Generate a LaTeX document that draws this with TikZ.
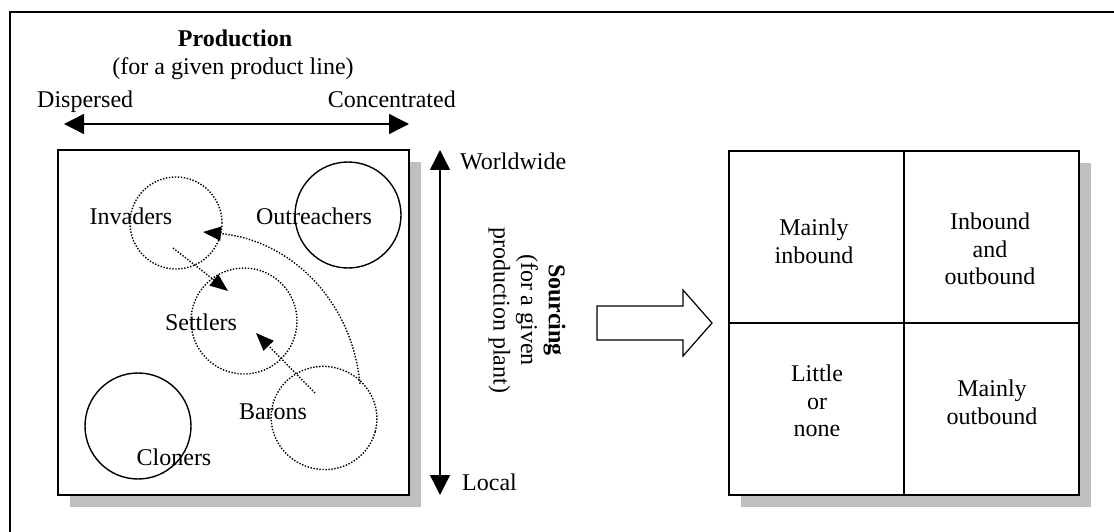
\documentclass[tikz,border=0pt]{standalone}
\usepackage{fontspec}
\setmainfont{Liberation Serif}
\usetikzlibrary{arrows.meta,calc,shapes.geometric}

\tikzset{
	shadow/.style={fill=black!25,draw=none},
	box/.style={draw,fill=white,line width=1.4pt},
	ring/.style={line width=1.4pt},
	dotring/.style={line width=1.4pt,dash pattern=on 1.4pt off 1.6pt},
	move/.style={dotring,-{Triangle[length=18pt,width=14pt]}},
	axis/.style={line width=1.4pt,{Triangle[length=20pt,width=20pt]}-{Triangle[length=20pt,width=20pt]}},
}

\begin{document}
\begin{tikzpicture}[x=1pt,y=-1pt,every node/.style={font=\fontsize{24}{27.7}\selectfont,inner sep=0pt}]
	\useasboundingbox (0,0) rectangle (1114,532);
	\path
	(58,150) coordinate (L1)
	(409,495) coordinate (L2)
	(729,151) coordinate (R1)
	(1079,495) coordinate (R2)
	($(R1)!.5!(R2)$) coordinate (RM)
	(64,124) coordinate (disp)
	(409,124) coordinate (conc)
	(440,150) coordinate (wide)
	(440,495) coordinate (loc)
	;
	% outer frame, only left and top edges fall inside the picture
	\draw[line width=2.6pt] (1120,12) -- (10,12) -- (10,540);
	% boxes with their shadows
	\fill[shadow] ($(L1)+(12,12)$) rectangle ($(L2)+(12,12)$);
	\fill[shadow] ($(R1)+(12,12)$) rectangle ($(R2)+(12,12)$);
	\draw[box] (L1) rectangle (L2);
	\draw[box] (R1) rectangle (R2);
	\draw[line width=1.4pt] (RM |- R1) -- (RM |- R2) (RM -| R1) -- (RM -| R2);
	% axes
	\draw[axis] (disp) -- (conc);
	\draw[axis] (wide) -- (loc);
	\node[anchor=base] (prod) at (235,47) {\bfseries Production};
	\node[anchor=base] (prodsub) at (233,75) {(for a given product line)};
	\node[anchor=base west] (dispt) at (37,108) {Dispersed};
	\node[anchor=base east] (conct) at (456,108) {Concentrated};
	\node[anchor=base west] (widet) at (460,170) {Worldwide};
	\node[anchor=base west] (loct) at (462,490) {Local};
	\node[rotate=-90,align=center] (src) at (527,310) {\bfseries Sourcing\\(for a given\\production plant)};
	% strategies
	\node[circle,dotring,draw,minimum size=92pt] (invc) at (176,223) {};
	\node[circle,ring,draw,minimum size=106pt] (outc) at (348,215) {};
	\node[circle,dotring,draw,minimum size=106pt] (setc) at (244,321) {};
	\node[ellipse,dotring,draw,minimum width=106pt,minimum height=103pt,rotate=-15] (barc) at (324,418) {};
	\node[circle,ring,draw,minimum size=106pt] (clnc) at (138,426) {};
	\foreach \n/\p/\t in {inv/{(131,224)}/Invaders,out/{(314,224)}/Outreachers,set/{(201,330)}/Settlers,bar/{(273,419)}/Barons,cln/{(174,465)}/Cloners}
		\node[anchor=base] (\n) at \p {\t};
	\path
	(173,248) coordinate (a1) (228,291) coordinate (b1)
	(315,393) coordinate (a2) (256,333) coordinate (b2)
	(360,384) coordinate (a3) (203,232) coordinate (b3)
	;
	\draw[move] (a1) -- (b1);
	\draw[move] (a2) -- (b2);
	\draw[move] (a3) .. controls (352,300) and (290,240) .. (b3);
	% big arrow
	\draw[line width=1.2pt] (597,306) -- (683,306) -- (683,290) -- (712,323) -- (683,356) -- (683,340) -- (597,340) -- cycle;
	% quadrant texts
	\foreach \n/\p/\t in {q1/{(814,241)}/{Mainly\\inbound},q2/{(990,249)}/{Inbound\\and\\outbound},q3/{(817,401)}/{Little\\or\\none},q4/{(992,402)}/{Mainly\\outbound}}
		\node[align=center] (\n) at \p {\t};
\end{tikzpicture}
\end{document}
